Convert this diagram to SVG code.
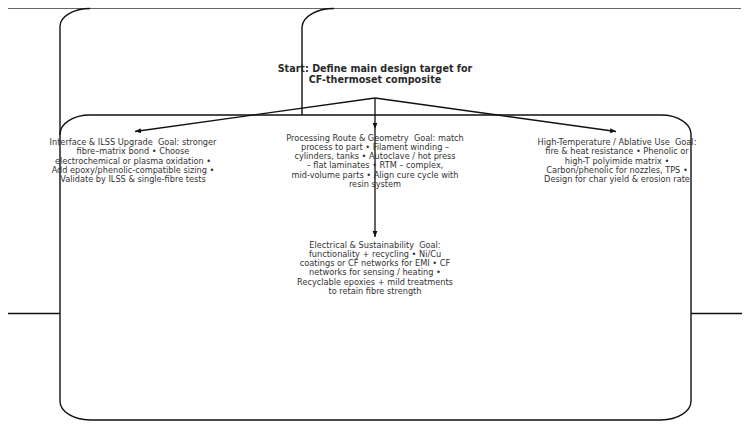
<svg xmlns="http://www.w3.org/2000/svg" width="750" height="429" viewBox="0 0 750 429">
<defs>
<style>
.frame{fill:none;stroke:#111;stroke-width:1.4}
.rule{fill:none;stroke:#666;stroke-width:1}
.edge{fill:none;stroke:#111;stroke-width:1.3}
.t{font-family:"DejaVu Sans",sans-serif;font-size:8.2px;fill:#333;text-anchor:middle;white-space:pre}
.title{font-family:"DejaVu Sans",sans-serif;font-size:9.6px;font-weight:bold;fill:#2a2a2a;text-anchor:middle}
</style>
<marker id="ah" viewBox="0 0 10 10" refX="10" refY="5" markerWidth="6" markerHeight="6" orient="auto" markerUnits="userSpaceOnUse">
<path d="M0,1 L10,5 L0,9 z" fill="#111"/>
</marker>
</defs>
<g id="frames">
<path class="rule" d="M8 8.5 H741"/>
<path class="frame" d="M8 313.5 H60 M691 313.5 H742"/>
<path class="frame" d="M60 135 V26 A30 18 0 0 1 90 8.5"/>
<path class="frame" d="M302 115 V27 A32 19 0 0 1 334 8.5"/>
<rect class="frame" x="60" y="115" width="631" height="305" rx="30" ry="19"/>
</g>
<g id="connectors">
<path class="edge" d="M375 98 L135 131.5" marker-end="url(#ah)"/>
<path class="edge" d="M375 98 L616 131.5" marker-end="url(#ah)"/>
<path class="edge" d="M375 98 L375 129" marker-end="url(#ah)"/>
<path class="edge" d="M375 129 L375 237" marker-end="url(#ah)"/>
</g>
<g id="start">
<text class="title" x="375" y="72">Start: Define main design target for</text>
<text class="title" x="375" y="83">CF-thermoset composite</text>
</g>
<g id="interface">
<text class="t" x="133" y="145">Interface &amp; ILSS Upgrade  Goal: stronger</text>
<text class="t" x="133" y="154.3">fibre–matrix bond • Choose</text>
<text class="t" x="133" y="163.6">electrochemical or plasma oxidation •</text>
<text class="t" x="133" y="172.9">Add epoxy/phenolic-compatible sizing •</text>
<text class="t" x="133" y="182.2">Validate by ILSS &amp; single-fibre tests</text>
</g>
<g id="processing">
<text class="t" x="375" y="140.5">Processing Route &amp; Geometry  Goal: match</text>
<text class="t" x="375" y="149.8">process to part • Filament winding –</text>
<text class="t" x="375" y="159.1">cylinders, tanks • Autoclave / hot press</text>
<text class="t" x="375" y="168.4">– flat laminates • RTM – complex,</text>
<text class="t" x="375" y="177.7">mid-volume parts • Align cure cycle with</text>
<text class="t" x="375" y="187">resin system</text>
</g>
<g id="hightemp">
<text class="t" x="617" y="145">High-Temperature / Ablative Use  Goal:</text>
<text class="t" x="617" y="154.3">fire &amp; heat resistance • Phenolic or</text>
<text class="t" x="617" y="163.6">high-T polyimide matrix •</text>
<text class="t" x="617" y="172.9">Carbon/phenolic for nozzles, TPS •</text>
<text class="t" x="617" y="182.2">Design for char yield &amp; erosion rate</text>
</g>
<g id="electrical">
<text class="t" x="375" y="247.5">Electrical &amp; Sustainability  Goal:</text>
<text class="t" x="375" y="256.8">functionality + recycling • Ni/Cu</text>
<text class="t" x="375" y="266.1">coatings or CF networks for EMI • CF</text>
<text class="t" x="375" y="275.4">networks for sensing / heating •</text>
<text class="t" x="375" y="284.7">Recyclable epoxies + mild treatments</text>
<text class="t" x="375" y="294">to retain fibre strength</text>
</g>
</svg>
